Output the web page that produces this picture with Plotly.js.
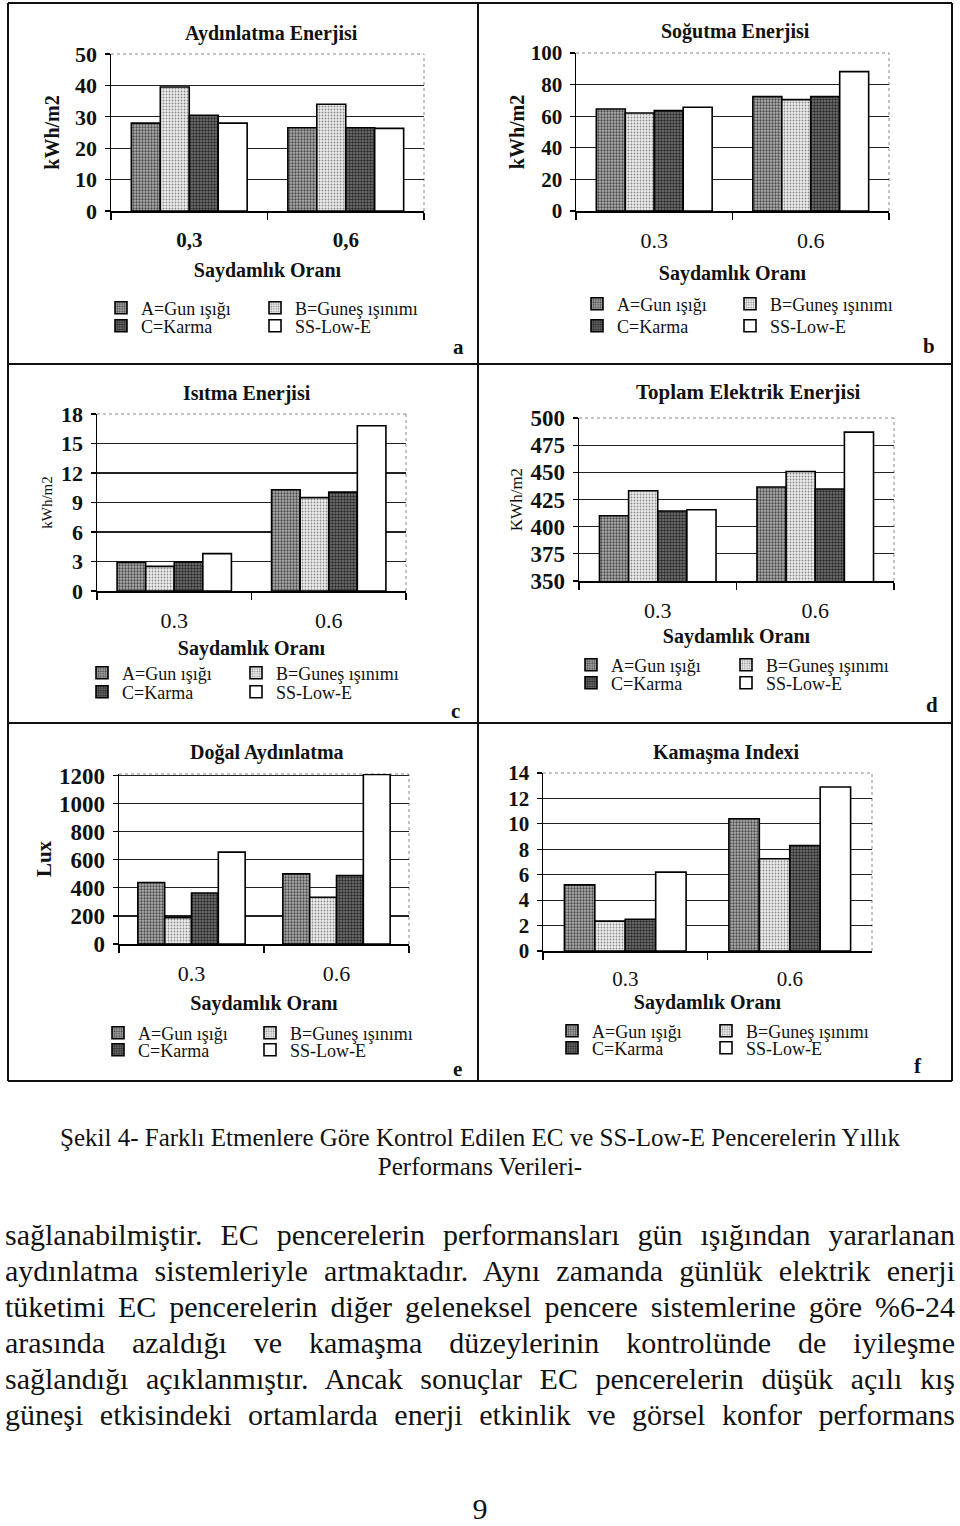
<!DOCTYPE html>
<html>
<head>
<meta charset="utf-8">
<script src="https://cdn.plot.ly/plotly-3.0.1.min.js"></script>
<style>
  html, body { margin:0; padding:0; background:#fff; }
  #wrap { position:relative; width:960px; height:1526px; overflow:hidden; }
  #chart { position:absolute; left:0; top:0; width:960px; height:1100px; }
  .cap { position:absolute; left:0; width:960px; text-align:center; font-family:"Liberation Serif", serif; font-size:25px; color:#111; white-space:nowrap; }
  .para { position:absolute; left:5px; width:950px; font-family:"Liberation Serif", serif; font-size:30px; color:#111; }
  .para span { display:block; height:36px; line-height:36px; white-space:nowrap; text-align:justify; text-align-last:justify; }
  .pnum { position:absolute; left:0; width:960px; text-align:center; font-family:"Liberation Serif", serif; font-size:30px; color:#111; }
</style>
</head>
<body>
<div id="wrap">
  <div id="chart"></div>
  <div class="cap" style="top:1124px;">Şekil 4- Farklı Etmenlere Göre Kontrol Edilen EC ve SS-Low-E Pencerelerin Yıllık</div>
  <div class="cap" style="top:1153px;">Performans Verileri-</div>
  <div class="para" style="top:1217px;">
    <span>sağlanabilmiştir. EC pencerelerin performansları gün ışığından yararlanan</span>
    <span>aydınlatma sistemleriyle artmaktadır. Aynı zamanda günlük elektrik enerji</span>
    <span>tüketimi EC pencerelerin diğer geleneksel pencere sistemlerine göre %6-24</span>
    <span>arasında azaldığı ve kamaşma düzeylerinin kontrolünde de iyileşme</span>
    <span>sağlandığı açıklanmıştır. Ancak sonuçlar EC pencerelerin düşük açılı kış</span>
    <span>güneşi etkisindeki ortamlarda enerji etkinlik ve görsel konfor performans</span>
  </div>
  <div class="pnum" style="top:1492px;">9</div>
</div>
<script>
// ---------------- DATA ----------------
const seriesNames = ['A=Gun ışığı', 'B=Guneş ışınımı', 'C=Karma', 'SS-Low-E'];
const xTitle = 'Saydamlık Oranı';
const catsComma = ['0,3', '0,6'];
const catsDot = ['0.3', '0.6'];

const panelTitles = ['Aydınlatma Enerjisi', 'Soğutma Enerjisi', 'Isıtma Enerjisi',
                     'Toplam Elektrik Enerjisi', 'Doğal Aydınlatma', 'Kamaşma Indexi'];
const yTitles = ['kWh/m2', 'kWh/m2', 'kWh/m2', 'KWh/m2', 'Lux', ''];
const panelLetters = ['a', 'b', 'c', 'd', 'e', 'f'];

// a - Aydınlatma Enerjisi (kWh/m2)
const aydinlatma_A = [28, 26.5];
const aydinlatma_B = [39.5, 34];
const aydinlatma_C = [30.5, 26.5];
const aydinlatma_SS = [28, 26.3];
// b - Soğutma Enerjisi (kWh/m2)
const sogutma_A = [64.6, 72.4];
const sogutma_B = [62, 70.5];
const sogutma_C = [63.5, 72.4];
const sogutma_SS = [65.7, 88.2];
// c - Isıtma Enerjisi (kWh/m2)
const isitma_A = [2.9, 10.3];
const isitma_B = [2.5, 9.5];
const isitma_C = [2.95, 10.05];
const isitma_SS = [3.8, 16.8];
// d - Toplam Elektrik Enerjisi (KWh/m2)
const toplam_A = [410, 436.5];
const toplam_B = [433, 450.7];
const toplam_C = [414.4, 434.7];
const toplam_SS = [415.6, 487];
// e - Doğal Aydınlatma (Lux)
const dogal_A = [438, 500];
const dogal_B = [188, 333];
const dogal_C = [364, 488];
const dogal_SS = [655, 1208];
// f - Kamaşma Indexi
const kamasma_A = [5.2, 10.4];
const kamasma_B = [2.35, 7.25];
const kamasma_C = [2.5, 8.3];
const kamasma_SS = [6.2, 12.9];

const panelData = [
  [aydinlatma_A, aydinlatma_B, aydinlatma_C, aydinlatma_SS],
  [sogutma_A, sogutma_B, sogutma_C, sogutma_SS],
  [isitma_A, isitma_B, isitma_C, isitma_SS],
  [toplam_A, toplam_B, toplam_C, toplam_SS],
  [dogal_A, dogal_B, dogal_C, dogal_SS],
  [kamasma_A, kamasma_B, kamasma_C, kamasma_SS]
];
const panelCats = [catsComma, catsDot, catsDot, catsDot, catsDot, catsDot];

// ---------------- LAYOUT ----------------
const W = 960, H = 1100;
const px = v => v / W;
const py = v => 1 - v / H;
const FONT = 'Liberation Serif, Times New Roman, serif';

// plot-area boxes in page pixels [x0, x1, yTop, yBottom]
const boxes = [
  [111, 424, 54, 211],
  [576, 889, 53, 211],
  [97, 406, 414, 591],
  [579, 894, 418, 581],
  [119, 409, 774, 944],
  [543, 872, 773, 951]
];
const yRanges = [[0, 50], [0, 100], [0, 18], [350, 500], [0, 1212], [0, 14]];
const yDticks = [10, 20, 3, 25, 200, 2];
const yTickSize = [22, 21, 22, 23, 23, 21];
const xTickSize = [21, 22, 22, 22, 22, 21];
const titlePos = [[271, 33], [735, 32], [247, 393], [748, 392], [267, 752], [726, 752]];
const titleSize = [20, 20, 20, 21, 20, 20];
const xTickStandoff = [9, 9, 9, 9, 9, 8];
const xTitleStandoff = [12, 14, 9, 7, 11, 0];
const yTitleStandoff = [10, 1, 5, 3, 1, 2];
const yTitleSize = [20, 20, 15, 17, 21, 16];
const yTitleBold = [true, true, false, false, true, true];
const xTickBold = [true, false, false, false, false, false];
const legendSq = [ // [A/C square centre x, B/SS square centre x, row1 y, row2 y]
  [120, 274, 308, 326],
  [596, 749, 304, 326],
  [101, 255, 673, 692],
  [590, 745, 665, 683],
  [117, 269, 1033, 1050],
  [571, 725, 1031, 1048]
];
const letterPos = [[458, 347], [929, 346], [455, 711], [932, 705], [457, 1069], [918, 1066]];

const fills = [
  {color: '#a0a0a0', pattern: {shape: '.', fgcolor: '#4a4a4a', bgcolor: '#b0b0b0', size: 3, solidity: 0.45, fillmode: 'replace'}},
  {color: '#e0e0e0', pattern: {shape: '.', fgcolor: '#8a8a8a', bgcolor: '#eeeeee', size: 3, solidity: 0.3, fillmode: 'replace'}},
  {color: '#5c5c5c', pattern: {shape: '.', fgcolor: '#2a2a2a', bgcolor: '#777777', size: 3, solidity: 0.5, fillmode: 'replace'}},
  {color: '#ffffff', pattern: {shape: ''}}
];

const traces = [];
const layout = {
  width: W, height: H,
  margin: {l: 0, r: 0, t: 0, b: 0},
  paper_bgcolor: '#fff', plot_bgcolor: '#fff',
  barmode: 'group', bargap: 0.26, bargroupgap: 0,
  font: {family: FONT, color: '#111'},
  showlegend: true,
  annotations: [], shapes: []
};

for (let p = 0; p < 6; p++) {
  const xa = p === 0 ? 'x' : 'x' + (p + 1);
  const ya = p === 0 ? 'y' : 'y' + (p + 1);
  const xk = p === 0 ? 'xaxis' : 'xaxis' + (p + 1);
  const yk = p === 0 ? 'yaxis' : 'yaxis' + (p + 1);
  const b = boxes[p];
  const ls = legendSq[p];

  for (let s = 0; s < 4; s++) {
    const idx = p * 4 + s + 1;
    const legName = idx === 1 ? 'legend' : 'legend' + idx;
    traces.push({
      type: 'bar', name: seriesNames[s],
      x: panelCats[p], y: panelData[p][s],
      xaxis: xa, yaxis: ya,
      legend: legName,
      marker: {color: fills[s].color, pattern: fills[s].pattern, line: {color: '#000', width: 1.6}},
      hoverinfo: 'skip'
    });
    const sqx = (s === 0 || s === 2) ? ls[0] : ls[1];
    const rowy = (s < 2) ? ls[2] : ls[3];
    layout[legName] = {
      orientation: 'v', xref: 'paper', yref: 'paper', xanchor: 'left', yanchor: 'middle',
      x: px(sqx - 19), y: py(rowy),
      bgcolor: 'rgba(0,0,0,0)', borderwidth: 0, itemwidth: 30, tracegroupgap: 0,
      font: {family: FONT, size: 18, color: '#111'},
      itemclick: false, itemdoubleclick: false
    };
  }

  layout[xk] = {
    domain: [px(b[0]), px(b[1])], anchor: ya,
    type: 'category',
    showline: true, linecolor: '#000', linewidth: 1.5,
    ticks: 'outside', tickson: 'boundaries', ticklen: 7, tickcolor: '#000', tickwidth: 1.5,
    ticklabelstandoff: xTickStandoff[p],
    tickfont: {family: FONT, size: xTickSize[p], color: '#111', weight: xTickBold[p] ? 'bold' : 'normal'},
    showgrid: false, zeroline: false, fixedrange: true,
    title: {text: xTitle, standoff: xTitleStandoff[p], font: {family: FONT, size: 20, weight: 'bold', color: '#111'}}
  };
  layout[yk] = {
    domain: [py(b[3]), py(b[2])], anchor: xa,
    range: yRanges[p], dtick: yDticks[p], tick0: yRanges[p][0],
    showline: true, linecolor: '#000', linewidth: 1.5,
    ticks: 'outside', ticklen: 5, tickcolor: '#000', tickwidth: 1.2,
    ticklabelstandoff: 3,
    tickfont: {family: FONT, size: yTickSize[p], color: '#111', weight: 'bold'},
    showgrid: true, gridcolor: '#222', gridwidth: 1.2,
    zeroline: false, fixedrange: true,
    title: {text: yTitles[p], standoff: yTitleStandoff[p],
            font: {family: FONT, size: yTitleSize[p], weight: yTitleBold[p] ? 'bold' : 'normal', color: '#111'}}
  };
  // panel title
  layout.annotations.push({
    xref: 'paper', yref: 'paper', x: px(titlePos[p][0]), y: py(titlePos[p][1]),
    xanchor: 'center', yanchor: 'middle', showarrow: false,
    text: panelTitles[p], font: {family: FONT, size: titleSize[p], weight: 'bold', color: '#111'}
  });
  // panel letter
  layout.annotations.push({
    xref: 'paper', yref: 'paper', x: px(letterPos[p][0]), y: py(letterPos[p][1]),
    xanchor: 'center', yanchor: 'middle', showarrow: false,
    text: panelLetters[p], font: {family: FONT, size: 21, weight: 'bold', color: '#111'}
  });
  // dotted plot-area border (top and right)
  layout.shapes.push({type: 'line', xref: xa + ' domain', yref: ya + ' domain', x0: 0.003, x1: 1, y0: 1, y1: 1,
                      line: {color: '#ffffff', width: 2}, layer: 'below'});
  layout.shapes.push({type: 'line', xref: xa + ' domain', yref: ya + ' domain', x0: 0, x1: 1, y0: 1, y1: 1,
                      line: {color: '#888', width: 1, dash: 'dot'}, layer: 'below'});
  layout.shapes.push({type: 'line', xref: xa + ' domain', yref: ya + ' domain', x0: 1, x1: 1, y0: 0, y1: 1,
                      line: {color: '#888', width: 1, dash: 'dot'}, layer: 'below'});
}

// panel frame lines (page layout of the figure)
const vLines = [8, 478, 952];
const hLines = [3, 364, 723, 1081];
vLines.forEach(v => layout.shapes.push({type: 'line', xref: 'paper', yref: 'paper',
  x0: px(v), x1: px(v), y0: py(3), y1: py(1081), line: {color: '#111', width: 2}}));
hLines.forEach(h => layout.shapes.push({type: 'line', xref: 'paper', yref: 'paper',
  x0: px(8), x1: px(952), y0: py(h), y1: py(h), line: {color: '#111', width: 2}}));

Plotly.newPlot('chart', traces, layout, {staticPlot: true, displayModeBar: false});
</script>
</body>
</html>
